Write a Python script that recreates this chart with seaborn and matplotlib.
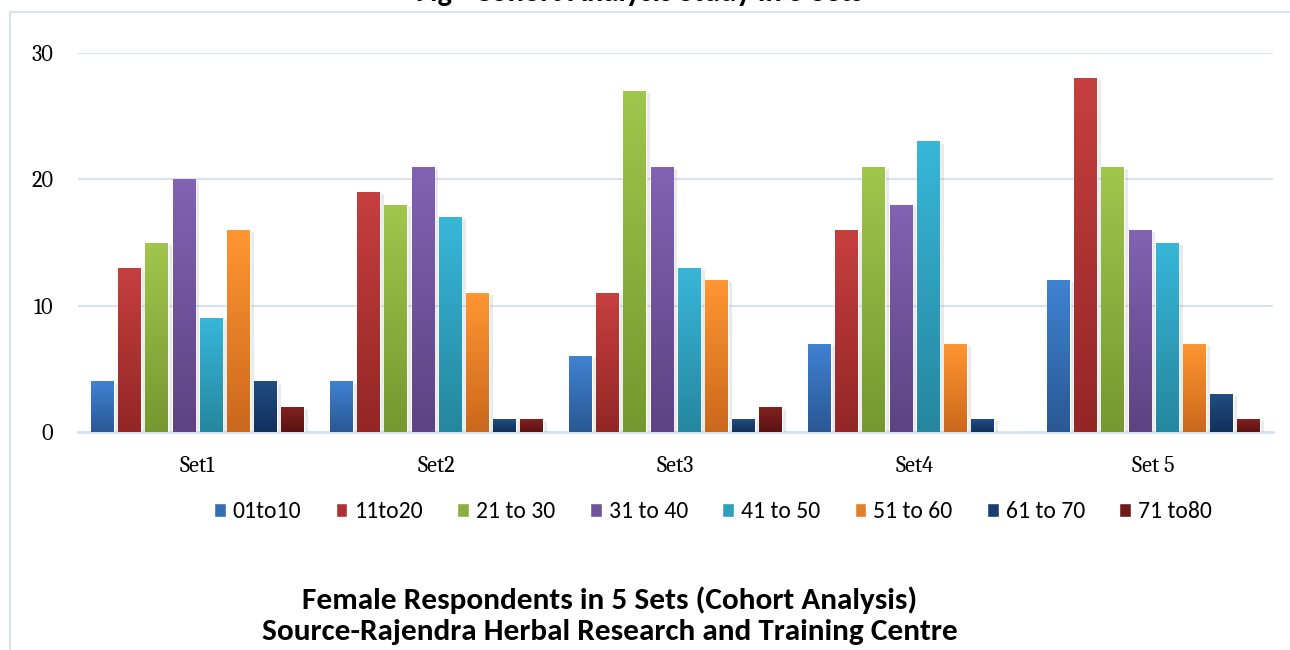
import numpy as np
import pandas as pd
import matplotlib
matplotlib.use('Agg')
import matplotlib.pyplot as plt
import matplotlib.patheffects as pe
from matplotlib.patches import Patch, Rectangle
from matplotlib.colors import to_rgb
import seaborn as sns

# ── DATA ───────────────────────────────────────────────────────
sets = ['Set1', 'Set2', 'Set3', 'Set4', 'Set 5']
age_groups = ['01to10', '11to20', '21 to 30', '31 to 40',
              '41 to 50', '51 to 60', '61 to 70', '71 to80']

g01to10 = [4, 4, 6, 7, 12]
g11to20 = [13, 19, 11, 16, 28]
g21to30 = [15, 18, 27, 21, 21]
g31to40 = [20, 21, 21, 18, 16]
g41to50 = [9, 17, 13, 23, 15]
g51to60 = [16, 11, 12, 7, 7]
g61to70 = [4, 1, 1, 1, 3]
g71to80 = [2, 1, 2, 0, 1]

yticks = [0, 10, 20, 30]

# gradient colours (top -> bottom) per age group
tops = ['#3f82d2', '#c63f3f', '#a0c64c', '#8262b2', '#38b6d8', '#ff9632', '#204d83', '#822222']
bottoms = ['#2a5894', '#942626', '#759830', '#5d4383', '#25879f', '#cb681c', '#12305c', '#5b1311']

values = [g01to10, g11to20, g21to30, g31to40, g41to50, g51to60, g61to70, g71to80]
df = pd.DataFrame({
    'set': np.repeat([sets], len(age_groups), axis=0).ravel(),
    'age': np.repeat(age_groups, len(sets)),
    'count': np.concatenate(values),
})

# ── STYLE ──────────────────────────────────────────────────────
sns.set_theme(style='white')
serif = ['Caladea', 'DejaVu Serif']
sans = ['Carlito', 'DejaVu Sans']
plt.rcParams['font.family'] = serif
plt.rcParams['text.color'] = 'black'

fig = plt.figure(figsize=(12.9, 6.5), dpi=100)
ax = fig.add_axes([78 / 1290, 1 - 432 / 650, (1273 - 78) / 1290, (432 - 53) / 650])

mid = [tuple((np.array(to_rgb(t)) + np.array(to_rgb(b))) / 2) for t, b in zip(tops, bottoms)]
sns.barplot(data=df, x='set', y='count', hue='age', order=sets, hue_order=age_groups,
            palette=mid, width=0.91, gap=0.17, legend=False, ax=ax, zorder=3)

# ── GRADIENT FILL + SHADOW ─────────────────────────────────────
for cont, top, bot in zip(ax.containers, tops, bottoms):
    grad = np.linspace(to_rgb(top), to_rgb(bot), 64).reshape(64, 1, 3)
    for bar in cont:
        h = bar.get_height()
        if h <= 0:
            continue
        x0, w = bar.get_x(), bar.get_width()
        bar.set_path_effects([pe.SimplePatchShadow(offset=(3, -1.5), shadow_rgbFace='#999999', alpha=0.2),
                              pe.Normal()])
        im = ax.imshow(grad, extent=[x0, x0 + w, 0, h], aspect='auto', zorder=3.5)
        im.set_clip_path(bar)

ax.set_xlim(-0.5, len(sets) - 0.5)
ax.set_ylim(0, 30)
ax.set_aspect('auto')

# ── AXES ───────────────────────────────────────────────────────
ax.set_yticks(yticks)
ax.yaxis.grid(True, color='#d6e2f1', lw=1.5, zorder=0)
ax.set_axisbelow(True)
for s in ['top', 'right', 'left']:
    ax.spines[s].set_visible(False)
ax.spines['bottom'].set_color('#d6e2f1')
ax.spines['bottom'].set_linewidth(2)
ax.tick_params(axis='both', length=0, labelsize=16, colors='black')
ax.tick_params(axis='y', pad=18)
ax.tick_params(axis='x', pad=17)
ax.set_xlabel('')
ax.set_ylabel('')

# ── LEGEND ─────────────────────────────────────────────────────
handles = [Patch(facecolor=c) for c in mid]
fig.legend(handles, age_groups, loc='center', bbox_to_anchor=(713 / 1290, 1 - 512 / 650),
           ncol=8, frameon=False, handlelength=0.5, handleheight=0.5, handletextpad=0.3,
           columnspacing=1.45, prop={'family': sans, 'size': 17})

# ── BORDER + TEXT ──────────────────────────────────────────────
fig.patches.append(Rectangle((10 / 1290, -0.1), 1.2, 1 - 12 / 650 + 0.1, transform=fig.transFigure,
                             fill=False, edgecolor='#d5e3f3', lw=1.5, zorder=0))

# top caption is cropped in the source image
fig.text(640 / 1290, 1 - 6 / 650, 'Fig - Cohort Analysis Study in 5 Sets', ha='center', va='bottom',
         fontsize=22, fontweight='bold', family=sans)
fig.text(610 / 1290, 1 - 600 / 650, 'Female Respondents in 5 Sets (Cohort Analysis)',
         ha='center', va='center', fontsize=22.5, fontweight='bold', family=sans)
fig.text(610 / 1290, 1 - 632 / 650, 'Source-Rajendra Herbal Research and Training Centre',
         ha='center', va='center', fontsize=22.5, fontweight='bold', family=sans)

fig.savefig('out.png', dpi=100)
